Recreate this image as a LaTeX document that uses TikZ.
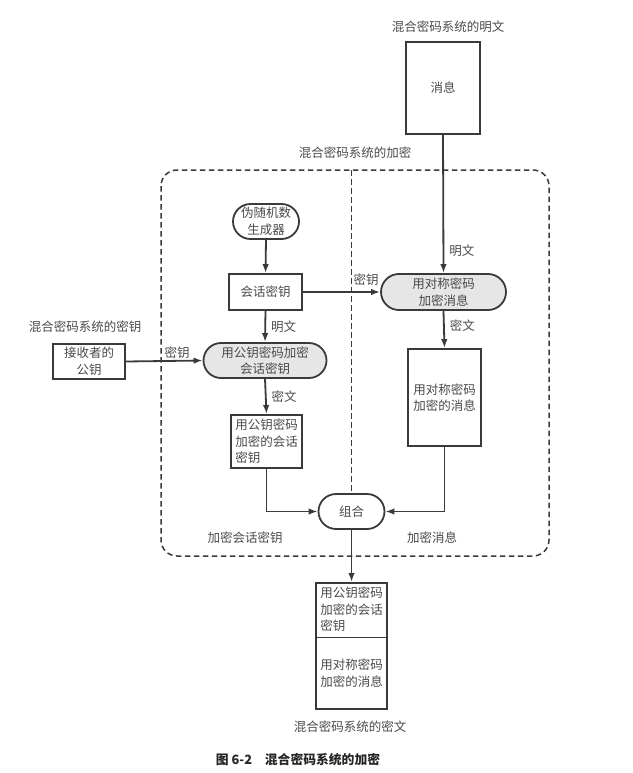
\documentclass[tikz,border=0pt]{standalone}
\usepackage{fontspec}
\setmainfont{Noto Sans CJK SC}
\usetikzlibrary{shapes.misc,arrows.meta}
\definecolor{ink}{HTML}{3A3A3A}
\definecolor{txt}{HTML}{4A4A4A}
\definecolor{fillg}{HTML}{E6E6E6}
\begin{document}
\begin{tikzpicture}[x=1pt,y=-1pt,
  every node/.style={font=\fontsize{12.5}{16.5}\selectfont, text=txt},
  box/.style={draw=ink, line width=1.8pt, fill=white, inner sep=2pt, align=left},
  pill/.style={draw=ink, line width=1.8pt, rounded rectangle, inner sep=2pt, align=center},
  grayp/.style={pill, fill=fillg},
  lab/.style={inner sep=1pt},
  conn/.style={draw=ink, line width=1.8pt, -{Latex[length=9pt,width=6.5pt]}},
  dashline/.style={draw=ink, line width=1.5pt, dash pattern=on 5.5pt off 3.5pt}
]
\useasboundingbox (0,0) rectangle (632,773);

% frame
\draw[dashline, rounded corners=16pt] (161,170) rectangle (549,556);
\node[lab] (frameT) at (355,153) {混合密码系统的加密};

% plaintext message
\node[lab] (msgT) at (448,27) {混合密码系统的明文};
\node[box, minimum width=74pt, minimum height=92pt, align=center] (msg) at (443,88) {消息};

% left column
\node[pill, minimum width=70pt, minimum height=35pt] (prng) at (266,221.5) {伪随机数\\生成器};
\node[box, minimum width=73pt, minimum height=36pt, align=center] (skey) at (265.5,292) {会话密钥};
\node[grayp, minimum width=127pt, minimum height=35pt] (pkenc) at (265,360.5) {用公钥密码加密\\会话密钥};
\node[box, minimum width=71pt, minimum height=53pt] (ekey) at (266.5,441.5) {用公钥密码\\加密的会话\\密钥};

% receiver key
\node[lab] (keyT) at (85,327) {混合密码系统的密钥};
\node[box, minimum width=72pt, minimum height=35pt, align=center] (rpk) at (89,361.5) {接收者的\\公钥};

% right column
\node[grayp, minimum width=129pt, minimum height=36pt] (symenc) at (443.5,292) {用对称密码\\加密消息};
\node[box, minimum width=73pt, minimum height=97pt] (emsg) at (444.5,397.5) {用对称密码\\加密的消息};

% combine
\node[pill, fill=white, minimum width=70pt, minimum height=35pt] (comb) at (351.5,511.5) {组合};
\coordinate (divtop) at (351.5,170);
\draw[dashline] (divtop) -- (comb.north);

% output
\node[box, minimum width=71pt, minimum height=126pt, anchor=north] (out) at (351.5,582) {};
\coordinate (divl) at (316,637.5);
\coordinate (divr) at (387,637.5);
\draw[draw=ink, line width=1.8pt] (divl) -- (divr);
\node[lab, align=left] (out1) at (351.5,609.5) {用公钥密码\\加密的会话\\密钥};
\node[lab, align=left] (out2) at (351.5,673) {用对称密码\\加密的消息};
\node[lab] (outT) at (350,727) {混合密码系统的密文};

% caption
\node[lab, text=black!85, font=\fontsize{12.8}{15}\selectfont\bfseries] (cap) at (298,760) {图 6-2\quad 混合密码系统的加密};

% connectors
\draw[conn] (msg.south) -- node[lab, right, pos=0.84, xshift=4pt] {明文} (symenc.north);
\draw[conn] (prng.south) -- (skey.north);
\draw[conn] (skey.east) -- (symenc.west);
\node[lab] (l1) at (366,280) {密钥};
\draw[conn] (skey.south) -- node[lab, right, xshift=4pt] {明文} (pkenc.north);
\draw[conn] (rpk.east) -- (pkenc.west);
\node[lab] (l2) at (177,353) {密钥};
\draw[conn] (pkenc.south) -- node[lab, right, xshift=4pt] {密文} (ekey.north);
\draw[conn] (symenc.south) -- node[lab, right, pos=0.4, xshift=4pt] {密文} (emsg.north);
\draw[conn] (ekey.south) |- (comb.west);
\draw[conn] (emsg.south) |- (comb.east);
\draw[conn] (comb.south) -- (out.north);

\node[lab] (l3) at (245,538) {加密会话密钥};
\node[lab] (l4) at (432,538) {加密消息};
\end{tikzpicture}
\end{document}
